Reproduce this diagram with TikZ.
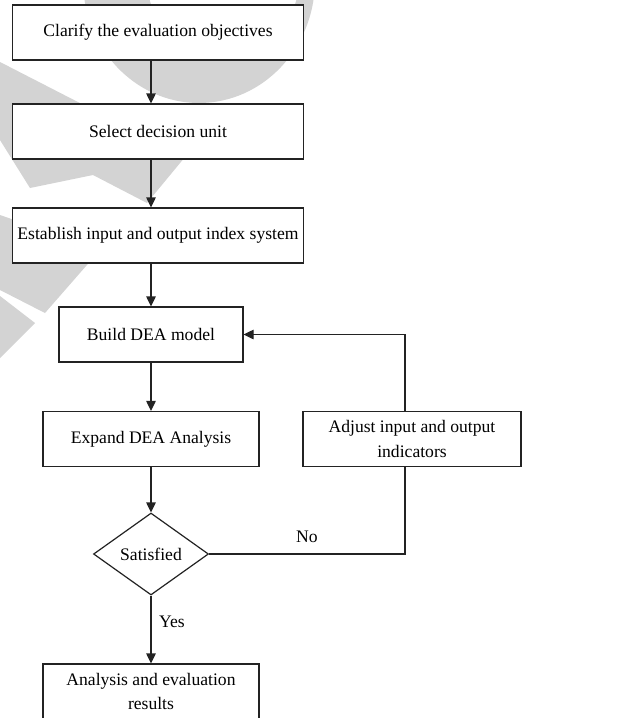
\documentclass[tikz,border=0pt]{standalone}
\usepackage{fontspec}
\setmainfont{Liberation Serif}
\usetikzlibrary{shapes.geometric,arrows.meta}
\definecolor{wm}{RGB}{211,211,211}
\definecolor{ink}{RGB}{35,35,35}
\begin{document}
\begin{tikzpicture}[x=1pt,y=-1pt,
  txt/.style={font=\fontsize{17.6}{24.5}\selectfont},
  box/.style={txt, draw=ink, line width=1.2pt, fill=white, inner sep=0pt, minimum height=55pt, align=center},
  dec/.style={txt, draw=ink, line width=1.2pt, fill=white, diamond, aspect=1.4, inner sep=0pt, minimum width=115pt, minimum height=82pt},
  conn/.style={draw=ink, line width=1.2pt},
  arr/.style={conn, -{Triangle[length=10pt,width=9.5pt]}}]
\useasboundingbox (0,0) rectangle (621,718);
\fill[white] (0,0) rectangle (621,718);
% watermark
\fill[wm, even odd rule] (199,-20) ellipse [x radius=116pt, y radius=123pt]
  (223,-20) circle [radius=76pt];
\fill[wm] (0,62) -- (185,157) -- (147,203) -- (93,175) -- (30,188) -- (0,140) -- cycle;
\fill[wm] (0,215) -- (100,250) -- (45,313) -- (0,290) -- cycle;
\fill[wm] (0,296) -- (35,323) -- (0,358) -- cycle;
% nodes
\node[box, minimum width=291pt] (b1) at (158,32.5) {Clarify the evaluation objectives};
\node[box, minimum width=291pt] (b2) at (158,131.5) {Select decision unit};
\node[box, minimum width=291pt] (b3) at (158,235.5) {Establish input and output index system};
\node[box, minimum width=184pt] (b4) at (151,334.5) {Build DEA model};
\node[box, minimum width=216pt] (b5) at (151,439) {Expand DEA Analysis};
\node[box, minimum width=218pt] (adj) at (412,439) {Adjust input and output\\indicators};
\node[dec] (sat) at (151,554) {Satisfied};
\node[box, minimum width=216pt] (res) at (151,691.5) {Analysis and evaluation\\results};
\coordinate (lx) at (405,0);
% connectors
\draw[arr] (b1.south -| b4.center) -- (b2.north -| b4.center);
\draw[arr] (b2.south -| b4.center) -- (b3.north -| b4.center);
\draw[arr] (b3.south -| b4.center) -- (b4.north);
\draw[arr] (b4) -- (b5);
\draw[arr] (b5) -- (sat);
\draw[arr] (sat) -- (res);
\draw[conn] (sat.east) -| (adj.south -| lx);
\draw[arr] (adj.north -| lx) |- (b4.east);
\node[txt] (no) at (307,537) {No};
\node[txt] (yes) at (172,622) {Yes};
\end{tikzpicture}
\end{document}
